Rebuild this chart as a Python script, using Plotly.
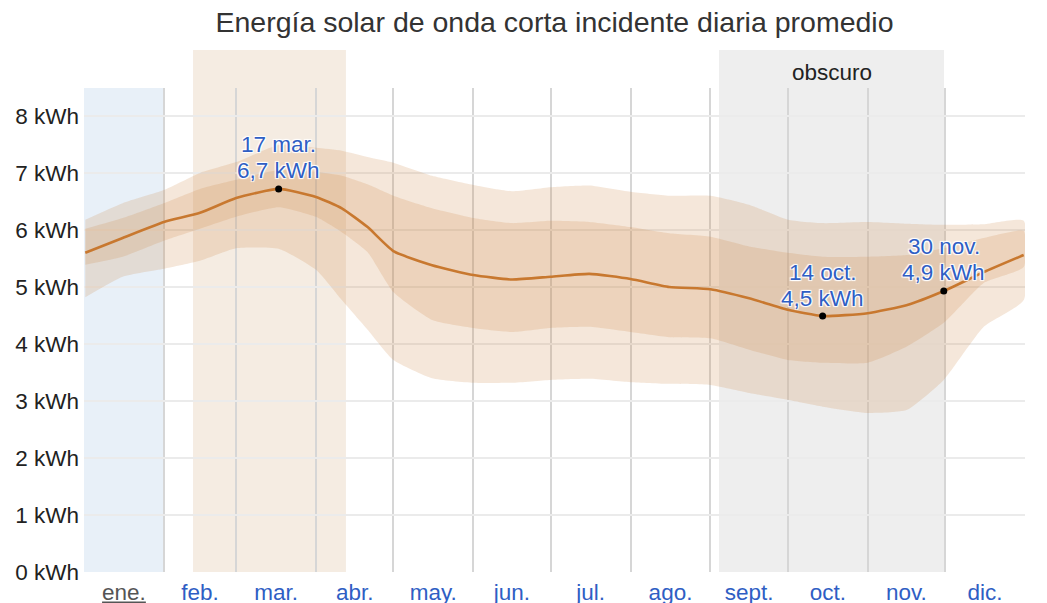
import plotly.graph_objects as go

# ---------------- data ----------------
MONTH_NAMES = ["ene.", "feb.", "mar.", "abr.", "may.", "jun.", "jul.", "ago.", "sept.", "oct.", "nov.", "dic."]
MONTH_DAYS = [31, 28, 31, 30, 31, 30, 31, 31, 30, 31, 30, 31]

DAYS = [0.5, 15, 31, 45, 59, 75.5, 90, 100, 110, 120, 135, 151, 166, 181, 196, 212,
        227, 243, 258, 273, 286.5, 304, 319, 333.5, 349, 364.5]
MEAN = [5.60, 5.86, 6.14, 6.30, 6.56, 6.72, 6.58, 6.38, 6.05, 5.63, 5.38, 5.21, 5.13, 5.18, 5.23, 5.14,
        5.00, 4.96, 4.80, 4.60, 4.49, 4.54, 4.68, 4.93, 5.26, 5.56]
P90 = [6.18, 6.47, 6.70, 7.00, 7.19, 7.49, 7.44, 7.39, 7.28, 7.18, 6.95, 6.79, 6.68, 6.75, 6.78, 6.67,
       6.60, 6.60, 6.44, 6.18, 6.12, 6.14, 6.11, 6.09, 6.10, 6.16]
P75 = [6.02, 6.21, 6.47, 6.72, 6.88, 7.05, 7.02, 6.95, 6.80, 6.60, 6.38, 6.21, 6.12, 6.16, 6.14, 6.05,
       5.94, 5.88, 5.71, 5.60, 5.53, 5.53, 5.56, 5.68, 5.86, 5.98]
P25 = [5.39, 5.53, 5.81, 6.02, 6.23, 6.40, 6.23, 5.96, 5.61, 4.91, 4.42, 4.28, 4.21, 4.28, 4.30, 4.21,
       4.12, 4.10, 3.90, 3.72, 3.67, 3.67, 3.95, 4.37, 5.07, 5.35]
P10 = [4.82, 5.18, 5.32, 5.46, 5.68, 5.67, 5.30, 4.77, 4.25, 3.72, 3.40, 3.32, 3.32, 3.37, 3.39, 3.33,
       3.30, 3.28, 3.14, 3.02, 2.90, 2.79, 2.84, 3.37, 4.30, 4.77]

ANNOT_DAYS = [75.5, 286.5, 333.5]
ANNOT_VALUES = [6.72, 4.49, 4.93]
ANNOT_DATES = ["17 mar.", "14 oct.", "30 nov."]

Y_TICKS = [0, 1, 2, 3, 4, 5, 6, 7, 8]
BRIGHT_PERIOD = [42.3, 101.6]
DARK_PERIOD = [246.3, 333.6]
CURRENT_MONTH = 0

# ---------------- derived ----------------
bounds = [0]
for d in MONTH_DAYS:
    bounds.append(bounds[-1] + d)
mid = [(bounds[i] + bounds[i + 1]) / 2 for i in range(12)]
ticktext = [f"<span style='color:#555'><u>{m}</u></span>" if i == CURRENT_MONTH else m
            for i, m in enumerate(MONTH_NAMES)]

FONT = "Arial, 'Liberation Sans', sans-serif"
BAND = "rgba(206,137,70,0.2)"
BLUE_TXT = "#2f5ec4"

# the page body has an 8px margin; figure size / margins compensate for it
W, H = 1039, 595

fig = go.Figure()
fig.add_trace(go.Scatter(x=DAYS + DAYS[::-1], y=P90 + P10[::-1], fill="toself", fillcolor=BAND,
                         line=dict(width=0, shape="spline", smoothing=0.5), mode="lines",
                         hoverinfo="skip", showlegend=False))
fig.add_trace(go.Scatter(x=DAYS + DAYS[::-1], y=P75 + P25[::-1], fill="toself", fillcolor=BAND,
                         line=dict(width=0, shape="spline", smoothing=0.5), mode="lines",
                         hoverinfo="skip", showlegend=False))
fig.add_trace(go.Scatter(x=DAYS, y=MEAN, mode="lines",
                         line=dict(color="#c8782f", width=2.6, shape="spline", smoothing=0.5),
                         showlegend=False))
fig.add_trace(go.Scatter(x=ANNOT_DAYS, y=ANNOT_VALUES, mode="markers",
                         marker=dict(color="black", size=7), showlegend=False))

shadow = "1px 1px 1px white, -1px -1px 1px white, 1px -1px 1px white, -1px 1px 1px white"
for d, v, lab in zip(ANNOT_DAYS, ANNOT_VALUES, ANNOT_DATES):
    val = f"{v:.1f}".replace(".", ",") + " kWh"
    for txt, sh in ((val, 18), (lab, 44)):
        fig.add_annotation(x=d, y=v, text=txt, showarrow=False, yshift=sh, yanchor="middle",
                           font=dict(family=FONT, size=22.5, color=BLUE_TXT, shadow=shadow))

# shaded periods
fig.add_shape(type="rect", xref="x", yref="paper", x0=bounds[CURRENT_MONTH], x1=bounds[CURRENT_MONTH + 1],
              y0=0, y1=1, fillcolor="#e8f0f8", line_width=0, layer="below")
fig.add_shape(type="rect", xref="x", yref="paper", x0=BRIGHT_PERIOD[0], x1=BRIGHT_PERIOD[1],
              y0=0, y1=1.0785, fillcolor="#f5ece2", line_width=0, layer="below")
fig.add_shape(type="rect", xref="x", yref="paper", x0=DARK_PERIOD[0], x1=DARK_PERIOD[1],
              y0=0, y1=1.0785, fillcolor="#eeeeee", line_width=0, layer="below")
fig.add_annotation(x=(DARK_PERIOD[0] + DARK_PERIOD[1]) / 2, y=1.033, xref="x", yref="paper",
                   text="obscuro", showarrow=False, yanchor="middle",
                   font=dict(family=FONT, size=22.5, color="#222"))

fig.update_layout(
    width=W, height=H,
    margin=dict(l=76, r=22, t=80, b=31, autoexpand=False),
    paper_bgcolor="white", plot_bgcolor="white",
    font=dict(family=FONT, size=22.5, color="#222"),
    title=dict(text="Energía solar de onda corta incidente diaria promedio",
               x=0.5, xref="paper", xanchor="center", y=1 - 14 / H, yref="container", yanchor="middle",
               font=dict(family=FONT, size=28.5, color="#333")),
    xaxis=dict(range=[0, 365], tickvals=mid, ticktext=ticktext, showgrid=False, zeroline=False,
               ticks="", tickfont=dict(color=BLUE_TXT, size=22.5), fixedrange=True,
               ticklabelstandoff=4,
               minor=dict(tickvals=bounds[1:-1], showgrid=True, gridcolor="#d6d6d6", gridwidth=1.6, ticks="")),
    yaxis=dict(range=[0, 8.49], tickvals=Y_TICKS, ticktext=[f"{t} kWh" for t in Y_TICKS],
               showgrid=True, gridcolor="#ebebeb", gridwidth=1.6, zeroline=False, ticks="",
               tickfont=dict(color="#222", size=22.5), ticklabelstandoff=4),
)

fig.write_html("out.html")
